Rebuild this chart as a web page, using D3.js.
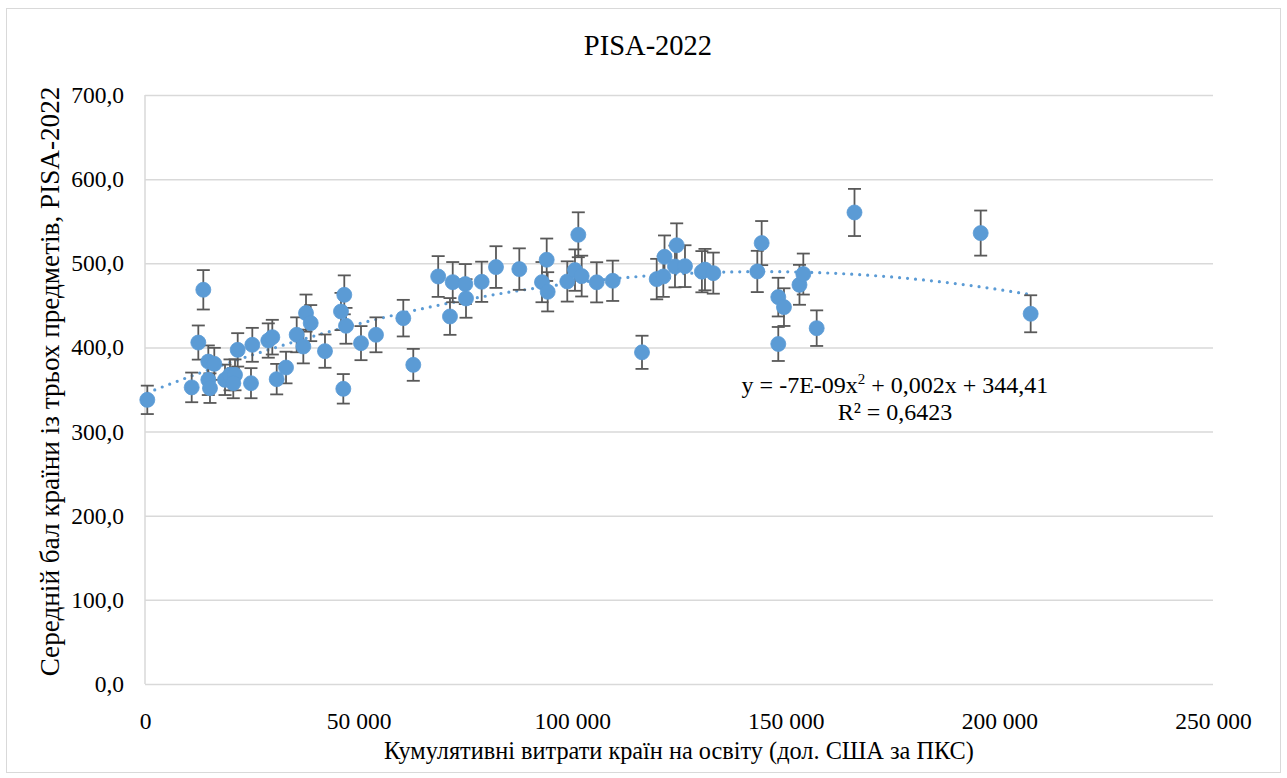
<!DOCTYPE html>
<html>
<head>
<meta charset="utf-8">
<script src="https://cdn.jsdelivr.net/npm/d3@7/dist/d3.min.js"></script>
<style>
  html, body { margin: 0; padding: 0; background: #ffffff; }
  svg { display: block; }
</style>
</head>
<body>
<svg id="chart" width="1287" height="778"></svg>
<script>
// ---- data ----
const spending = [540, 10930, 12480, 13650, 14820, 16220, 14820, 15210, 18730, 19900,
  21070, 20670, 21700, 25120, 24810, 28860, 29800, 30830, 33010, 35510,
  37060, 37690, 38790, 42130, 45880, 46650, 47050, 46420, 50560, 54070,
  60460, 62800, 68630, 71390, 72030, 74980, 75140, 78810, 82160, 87620,
  92930, 94030, 94260, 98850, 100650, 101430, 102220, 105730, 109480, 116340,
  119780, 121330, 121610, 124460, 124060, 126400, 130360, 131080, 133030, 143330,
  144350, 148240, 149570, 148240, 153200, 154100, 157230, 166080, 195620, 207320];
const scores = [337.7, 352.5, 405.8, 468.5, 383.2, 380.5, 361.5, 351.6, 361.5, 367.4,
  367.4, 357.5, 397.1, 403.1, 357.5, 408.2, 412.2, 362.3, 376.1, 415.0,
  401.1, 440.8, 428.9, 395.6, 442.7, 462.5, 425.7, 350.8, 405.1, 415.0,
  434.8, 379.3, 484.3, 436.8, 477.6, 475.3, 458.2, 478.0, 495.5, 493.1,
  477.6, 504.2, 466.1, 478.4, 491.9, 533.9, 484.8, 477.4, 479.2, 394.2,
  481.2, 484.3, 507.7, 521.4, 496.2, 496.6, 490.0, 492.5, 488.3, 490.3,
  524.0, 459.8, 447.9, 404.1, 474.4, 487.2, 422.9, 560.4, 535.9, 440.0];
const errorPercent = 0.05; // error bars: percentage of value
const xTicks = [0, 50000, 100000, 150000, 200000, 250000];
const yTicks = [0, 100, 200, 300, 400, 500, 600, 700];
const titleText = "PISA-2022";
const xTitle = "Кумулятивні витрати країн на освіту (дол. США за ПКС)";
const yTitle = "Середній бал країни із трьох предметів, PISA-2022";
const eqParts = ["y = -7E-09x", "2", " + 0,002x + 344,41"];
const r2Text = "R² = 0,6423";

// ---- layout ----
const FONT = '"Liberation Serif", "Times New Roman", Tinos, serif';
const svg = d3.select("#chart").style("font-family", FONT);
const plot = { left: 145, right: 1213, top: 95, bottom: 684 };

const locale = d3.formatLocale({ decimal: ",", thousands: " ", grouping: [3], currency: ["", ""] });
const fmtX = locale.format(",.0f");
const fmtY = locale.format(".1f");

const x = d3.scaleLinear().domain([0, 250000]).range([plot.left, plot.right]);
const y = d3.scaleLinear().domain([0, 700]).range([plot.bottom, plot.top]);

function txt(sel, size) {
  return sel.style("font-family", FONT).style("font-size", size + "px").attr("fill", "#000");
}

// chart border
svg.append("rect").attr("x", 6.5).attr("y", 8.5).attr("width", 1274).attr("height", 764)
  .attr("fill", "#fff").attr("stroke", "#d9d9d9").attr("stroke-width", 1);

// title
txt(svg.append("text").attr("x", 648).attr("y", 55).attr("text-anchor", "middle"), 28.5).text(titleText);

// gridlines + y tick labels
const yAxis = d3.axisLeft(y).tickValues(yTicks).tickSize(-(plot.right - plot.left)).tickPadding(21).tickFormat(fmtY);
const gy = svg.append("g").attr("transform", `translate(${plot.left},0)`).call(yAxis)
  .attr("font-family", null).attr("font-size", null);
gy.select(".domain").remove();
gy.selectAll(".tick line").attr("stroke", "#d9d9d9").attr("stroke-width", 1.5);
txt(gy.selectAll(".tick text"), 23.5);

// left vertical axis line
svg.append("line").attr("x1", plot.left).attr("x2", plot.left).attr("y1", plot.top).attr("y2", plot.bottom)
  .attr("stroke", "#d9d9d9").attr("stroke-width", 1.5);

// x axis labels
const xAxis = d3.axisBottom(x).tickValues(xTicks).tickSize(0).tickPadding(28).tickFormat(fmtX);
const gx = svg.append("g").attr("transform", `translate(0,${plot.bottom})`).call(xAxis)
  .attr("font-family", null).attr("font-size", null);
gx.select(".domain").remove();
txt(gx.selectAll(".tick text"), 23.5);

// axis titles
txt(svg.append("text").attr("x", 679).attr("y", 759).attr("text-anchor", "middle"), 24.3).text(xTitle);
txt(svg.append("text").attr("transform", "translate(59,381.5) rotate(-90)").attr("text-anchor", "middle"), 27.2).text(yTitle);

// polynomial (order 2) trendline via least squares
const n = spending.length;
const xs = spending.map(v => v / 1e5);
let S = [0,0,0,0,0], T = [0,0,0];
for (let i = 0; i < n; i++) {
  const xv = xs[i];
  for (let k = 0; k < 5; k++) S[k] += Math.pow(xv, k);
  for (let k = 0; k < 3; k++) T[k] += scores[i] * Math.pow(xv, k);
}
function solve3(A, b) {
  A = A.map((row, i) => row.concat([b[i]]));
  for (let c = 0; c < 3; c++) {
    let p = c; for (let r = c + 1; r < 3; r++) if (Math.abs(A[r][c]) > Math.abs(A[p][c])) p = r;
    [A[c], A[p]] = [A[p], A[c]];
    for (let r = 0; r < 3; r++) if (r !== c) {
      const f = A[r][c] / A[c][c];
      for (let k = c; k < 4; k++) A[r][k] -= f * A[c][k];
    }
  }
  return [A[0][3] / A[0][0], A[1][3] / A[1][1], A[2][3] / A[2][2]];
}
const coef = solve3([[S[0],S[1],S[2]],[S[1],S[2],S[3]],[S[2],S[3],S[4]]], T);
const xmin = d3.min(spending), xmax = d3.max(spending);
const trendPts = d3.range(0, 201).map(i => {
  const xv = xmin + (xmax - xmin) * i / 200;
  const u = xv / 1e5;
  return [xv, coef[0] + coef[1] * u + coef[2] * u * u];
});
svg.append("path").datum(trendPts)
  .attr("d", d3.line().x(d => x(d[0])).y(d => y(d[1])))
  .attr("fill", "none").attr("stroke", "#5b9bd5").attr("stroke-width", 3.2)
  .attr("stroke-linecap", "round").attr("stroke-dasharray", "0 8");

// error bars
const data = spending.map((v, i) => ({ x: v, y: scores[i] }));
const eb = svg.append("g").attr("stroke", "#595959").attr("stroke-width", 1.8).attr("fill", "none");
data.forEach(d => {
  const lo = d.y * (1 - errorPercent), hi = d.y * (1 + errorPercent);
  const cx = x(d.x);
  eb.append("line").attr("x1", cx).attr("x2", cx).attr("y1", y(lo)).attr("y2", y(hi));
  eb.append("line").attr("x1", cx - 6.5).attr("x2", cx + 6.5).attr("y1", y(lo)).attr("y2", y(lo));
  eb.append("line").attr("x1", cx - 6.5).attr("x2", cx + 6.5).attr("y1", y(hi)).attr("y2", y(hi));
});

// markers
svg.append("g").selectAll("circle").data(data).join("circle")
  .attr("cx", d => x(d.x)).attr("cy", d => y(d.y)).attr("r", 7.5)
  .attr("fill", "#5b9bd5").attr("stroke", "#5b9bd5").attr("stroke-width", 0.8);

// trendline equation label
const eq = txt(svg.append("text").attr("x", 895).attr("y", 393).attr("text-anchor", "middle"), 24);
eq.append("tspan").text(eqParts[0]);
eq.append("tspan").attr("dy", -9).style("font-size", "15px").text(eqParts[1]);
eq.append("tspan").attr("dy", 9).text(eqParts[2]);
txt(svg.append("text").attr("x", 895).attr("y", 420).attr("text-anchor", "middle"), 24).text(r2Text);
</script>
</body>
</html>
